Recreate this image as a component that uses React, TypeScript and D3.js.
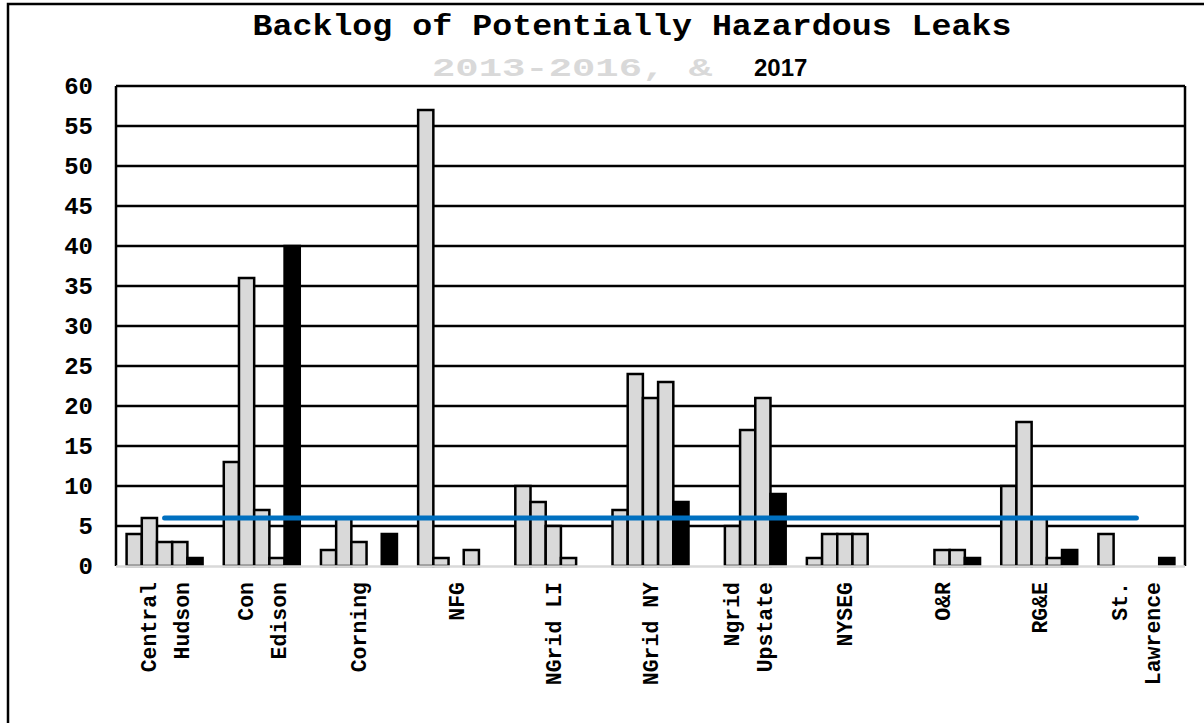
import React from "react";
import * as d3 from "d3";

const categories = ["Central Hudson", "Con Edison", "Corning", "NFG", "NGrid LI", "NGrid NY", "Ngrid Upstate", "NYSEG", "O&R", "RG&E", "St. Lawrence"];
const labelLines = [["Central", "Hudson"], ["Con", "Edison"], ["Corning"], ["NFG"], ["NGrid LI"], ["NGrid NY"], ["Ngrid", "Upstate"], ["NYSEG"], ["O&R"], ["RG&E"], ["St.", "Lawrence"]];
const years = ["2013", "2014", "2015", "2016", "2017"];
const v2013 = [4, 13, 2, 57, 10, 7, 0, 1, 0, 10, 4];
const v2014 = [6, 36, 6, 1, 8, 24, 5, 4, 0, 18, 0];
const v2015 = [3, 7, 3, 0, 5, 21, 17, 4, 2, 6, 0];
const v2016 = [3, 1, 0, 2, 1, 23, 21, 4, 2, 1, 0];
const v2017 = [1, 40, 4, 0, 0, 8, 9, 0, 1, 2, 1];
const target = [6, 6, 6, 6, 6, 6, 6, 6, 6, 6, 6];
const yTicks = [0, 5, 10, 15, 20, 25, 30, 35, 40, 45, 50, 55, 60];

const series = [v2013, v2014, v2015, v2016, v2017];

const W = 1204, H = 723;
const left = 116, right = 1185, top = 86, bottom = 566;
const mono = "'Liberation Mono', 'Courier New', monospace";

export default function App() {
  const x0 = d3.scaleBand<string>().domain(categories).range([left, right]).paddingInner(0.218).paddingOuter(0.109);
  const x1 = d3.scaleBand<string>().domain(years).range([0, x0.bandwidth()]);
  const y = d3.scaleLinear().domain([0, 60]).range([bottom, top]);
  const center = (c: string) => (x0(c) as number) + x0.bandwidth() / 2;
  const line = d3.line<number>().x((_, i) => center(categories[i])).y((d) => y(d));

  return (
    <svg width={W} height={H} style={{ position: "absolute", left: 0, top: 0, background: "#fff" }}>
      <rect x={0} y={0} width={W} height={H} fill="#fff" />
      <rect x={8} y={4} width={W + 20} height={H + 20} fill="none" stroke="#000" strokeWidth={2.5} />
      <text x={632} y={35} textAnchor="middle" fontFamily={mono} fontWeight="bold" fontSize={30} textLength={759} lengthAdjust="spacingAndGlyphs" fill="#000">
        Backlog of Potentially Hazardous Leaks
      </text>
      <text x={432} y={76} fontFamily={mono} fontWeight="bold" fontSize={25} fill="#d9d9d9" textLength={280} lengthAdjust="spacingAndGlyphs">
        2013-2016, &amp;
      </text>
      <text x={754} y={76} fontFamily="'Liberation Sans', Arial, sans-serif" fontWeight="bold" fontSize={24} fill="#000">
        2017
      </text>
      {yTicks.filter((t) => t > 0).map((t) => (
        <line key={t} x1={left} x2={right} y1={y(t)} y2={y(t)} stroke="#000" strokeWidth={2.5} />
      ))}
      {yTicks.map((t) => (
        <text key={"l" + t} x={93} y={y(t)} dy="0.35em" textAnchor="end" fontFamily={mono} fontWeight="bold" fontSize={24} fill="#000">
          {t}
        </text>
      ))}
      {categories.map((c, ci) =>
        series.map((s, si) => {
          const v = s[ci];
          if (v <= 0) return null;
          const bx = (x0(c) as number) + (x1(years[si]) as number);
          return (
            <rect key={c + si} x={bx} y={y(v)} width={x1.bandwidth()} height={y(0) - y(v)}
              fill={si === 4 ? "#000" : "#d9d9d9"} stroke="#000" strokeWidth={2.5} />
          );
        })
      )}
      <line x1={left} x2={left} y1={top} y2={bottom} stroke="#000" strokeWidth={2.5} />
      <line x1={right} x2={right} y1={top} y2={bottom} stroke="#000" strokeWidth={2.5} />
      <line x1={left} x2={right} y1={bottom + 0.5} y2={bottom + 0.5} stroke="#d9d9d9" strokeWidth={2.5} />
      <path d={line(target) || ""} fill="none" stroke="#0070C0" strokeWidth={5} strokeLinecap="round" />
      {categories.map((c, ci) => {
        const lines = labelLines[ci];
        const cx = center(c);
        return lines.map((ln, li) => {
          const off = lines.length === 1 ? 0 : (li === 0 ? -16.5 : 16.5);
          const lx = cx + off;
          return (
            <text key={c + li} transform={`translate(${lx},582) rotate(-90)`} textAnchor="end" dy="0.35em"
              fontFamily={mono} fontWeight="bold" fontSize={21.5} fill="#000">
              {ln}
            </text>
          );
        });
      })}
    </svg>
  );
}
